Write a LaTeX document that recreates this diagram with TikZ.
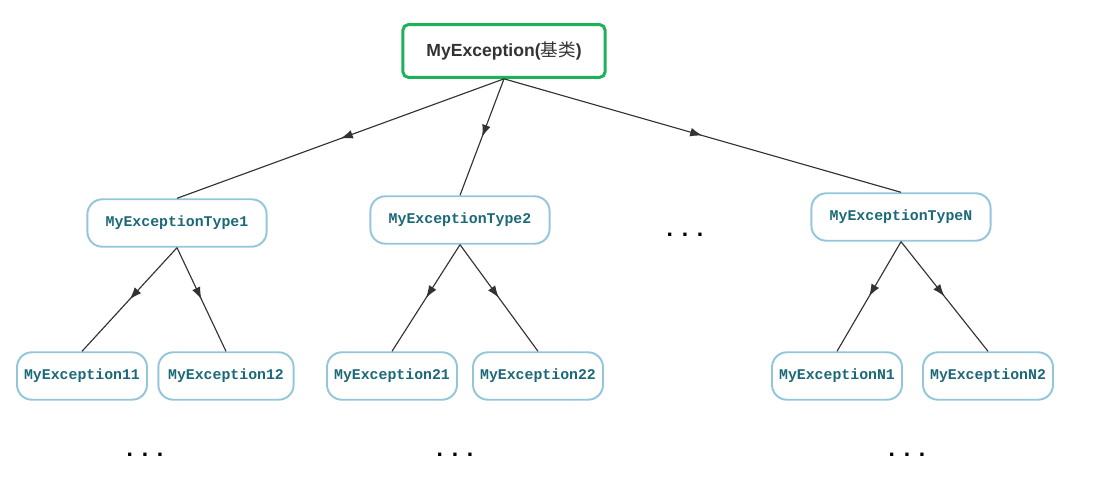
\documentclass[tikz,border=0pt]{standalone}
\usepackage{fontspec}
\setmainfont{Liberation Sans}
\setmonofont{Liberation Mono}
\newfontfamily\cjk{Noto Sans CJK SC}
\usepackage{xcolor}
\usetikzlibrary{arrows.meta,decorations.markings}

\definecolor{rootgreen}{HTML}{1DB25A}
\definecolor{boxblue}{HTML}{93C6DA}
\definecolor{texteal}{HTML}{1B6878}
\definecolor{linegray}{HTML}{333333}

\begin{document}
\begin{tikzpicture}[x=0.02cm,y=-0.02cm]
    \tikzstyle{root} = [rectangle, draw=rootgreen, line width=1.7pt, fill=white, rounded corners=3pt, minimum width=115pt, minimum height=30pt, text=black!80, font=\bfseries]
    \tikzstyle{type} = [rectangle, draw=boxblue, line width=1.1pt, fill=white, rounded corners=8.5pt, minimum width=102pt, minimum height=27pt, text=texteal, font=\ttfamily\bfseries\fontsize{8.45}{10}\selectfont]
    \tikzstyle{leaf} = [type, minimum width=74pt]
    \tikzstyle{dots} = [font=\bfseries\fontsize{13}{13}\selectfont]
    \tikzstyle{link} = [draw=linegray, line width=0.65pt, postaction={decorate}, decoration={markings, mark=at position 0.5 with {\arrow{Latex[length=7pt,width=5pt]}}}]
    \useasboundingbox (0,0) rectangle (1104,499);

    \node [root] (E) at (504,51) {MyException({\cjk\mdseries 基类})};

    \node [type] (T1) at (177,223) {MyExceptionType1};
    \node [type] (T2) at (460,220) {MyExceptionType2};
    \node [type] (TN) at (901,217) {MyExceptionTypeN};
    \node [dots] (D0) at (685,235) {.\hspace{5pt}.\hspace{5pt}.};

    \node [leaf] (L11) at (82,376) {MyException11};
    \node [leaf] (L12) at (226,376) [minimum width=77pt] {MyException12};
    \node [leaf] (L21) at (392,376) {MyException21};
    \node [leaf] (L22) at (538,376) {MyException22};
    \node [leaf] (LN1) at (837,376) {MyExceptionN1};
    \node [leaf] (LN2) at (988,376) {MyExceptionN2};

    \node [dots] (D1) at (145,455) {.\hspace{5pt}.\hspace{5pt}.};
    \node [dots] (D2) at (455,455) {.\hspace{5pt}.\hspace{5pt}.};
    \node [dots] (D3) at (907,455) {.\hspace{5pt}.\hspace{5pt}.};

    \path [link] (E.south) -- (T1.north);
    \path [link] (E.south) -- (T2.north);
    \path [link] (E.south) -- (TN.north);
    \path [link] (T1.south) -- (L11.north);
    \path [link] (T1.south) -- (L12.north);
    \path [link] (T2.south) -- (L21.north);
    \path [link] (T2.south) -- (L22.north);
    \path [link] (TN.south) -- (LN1.north);
    \path [link] (TN.south) -- (LN2.north);
\end{tikzpicture}
\end{document}
